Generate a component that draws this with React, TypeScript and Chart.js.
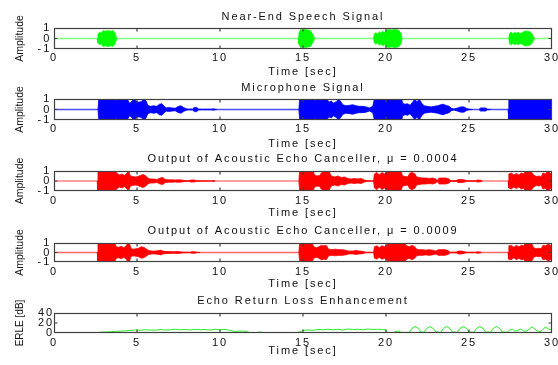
import React, { useEffect, useRef } from 'react';
import { Chart, registerables } from 'chart.js';

Chart.register(...registerables);

// ---------------- data ----------------
const timeTicks = [0, 5, 10, 15, 20, 25, 30];
const amplitudeTicks = [-1, 0, 1];
const erleTicks = [0, 20, 40];

// [time (s), envelope amplitude]
const nearEndSpeech: [number, number][] = [
  [0, 0], [2.6, 0], [2.65, 0.4], [2.75, 0.6], [2.85, 0.5], [2.95, 0.75], [3.1, 0.7], [3.25, 0.75], [3.4, 0.7], [3.55, 0.75], [3.65, 0.6], [3.72, 0.3], [3.78, 0],
  [14.7, 0], [14.75, 0.5], [14.85, 0.85], [15.0, 0.8], [15.15, 0.85], [15.3, 0.8], [15.45, 0.75], [15.55, 0.5], [15.65, 0.2], [15.7, 0],
  [19.25, 0], [19.3, 0.45], [19.4, 0.55], [19.5, 0.4], [19.6, 0.65], [19.7, 0.5], [19.8, 0.7], [19.9, 0.55], [20.0, 0.75], [20.15, 0.85], [20.35, 0.8], [20.55, 0.85], [20.75, 0.8], [20.9, 0.5], [20.97, 0],
  [27.4, 0], [27.45, 0.5], [27.55, 0.6], [27.65, 0.45], [27.75, 0.6], [27.85, 0.5], [27.95, 0.6], [28.05, 0.45], [28.2, 0.55], [28.35, 0.7], [28.5, 0.7], [28.65, 0.65], [28.8, 0.45], [28.9, 0.1], [28.95, 0], [30, 0],
];

const microphoneSignal: [number, number][] = [
  [0, 0], [2.65, 0], [2.7, 1], [3.6, 1], [3.75, 0.85], [3.85, 1], [4.45, 0.9], [4.55, 0.6], [4.65, 0.7], [4.8, 1], [4.95, 0.8], [5.1, 0.7], [5.25, 0.75], [5.4, 1], [5.55, 0.8], [5.65, 0.4], [5.8, 0.3], [6.0, 0.35], [6.2, 0.3], [6.35, 0.5], [6.5, 0.55], [6.65, 0.3], [6.75, 0.15], [6.9, 0.2], [7.1, 0.15], [7.3, 0.12], [7.5, 0.3], [7.65, 0.35], [7.8, 0.2], [7.95, 0.08], [8.1, 0.03], [8.35, 0.05], [8.45, 0.2], [8.6, 0.2], [8.7, 0.05], [8.9, 0.02], [9.5, 0.03], [9.6, 0.06], [9.7, 0.03], [9.8, 0],
  [14.75, 0], [14.8, 1], [15.6, 1], [15.75, 0.85], [15.85, 1], [16.45, 1], [16.55, 0.7], [16.7, 0.8], [16.85, 0.6], [17.0, 0.75], [17.15, 1], [17.3, 0.7], [17.4, 0.45], [17.6, 0.35], [17.8, 0.4], [18.0, 0.45], [18.2, 0.35], [18.4, 0.3], [18.6, 0.3], [18.8, 0.25], [19.0, 0.15], [19.2, 0.3], [19.3, 1], [20.95, 1], [21.0, 0.6], [21.15, 0.5], [21.3, 0.55], [21.45, 0.4], [21.6, 0.7], [21.75, 1], [21.85, 0.7], [22.0, 1], [22.15, 0.6], [22.3, 0.35], [22.5, 0.3], [22.7, 0.25], [22.9, 0.3], [23.1, 0.35], [23.3, 0.45], [23.45, 0.5], [23.6, 0.4], [23.8, 0.3], [23.95, 0.1], [24.1, 0.05], [24.3, 0.15], [24.5, 0.25], [24.7, 0.25], [24.85, 0.1], [25.0, 0.03], [25.2, 0], [25.6, 0], [25.7, 0.15], [25.85, 0.15], [26.0, 0.15], [26.1, 0.03], [26.3, 0],
  [27.35, 0], [27.4, 1], [30, 1],
];

const aecOutputMu0004: [number, number][] = [
  [0, 0], [2.6, 0], [2.65, 1], [3.7, 1], [3.8, 0.75], [3.95, 0.6], [4.1, 0.7], [4.25, 0.55], [4.4, 0.8], [4.5, 1], [4.6, 0.5], [4.75, 0.45], [4.9, 0.4], [5.05, 0.45], [5.2, 0.55], [5.35, 0.65], [5.5, 0.55], [5.65, 0.3], [5.8, 0.2], [6.0, 0.2], [6.2, 0.15], [6.4, 0.3], [6.55, 0.35], [6.7, 0.15], [6.9, 0.12], [7.1, 0.12], [7.3, 0.1], [7.5, 0.12], [7.7, 0.1], [7.9, 0.04], [8.1, 0.02], [8.25, 0.1], [8.45, 0.1], [8.6, 0.02], [9.5, 0], [9.6, 0.05], [9.7, 0],
  [14.75, 0], [14.8, 1], [15.6, 1], [15.7, 0.6], [15.85, 0.5], [16.0, 0.55], [16.1, 0.8], [16.25, 1], [16.4, 0.9], [16.55, 1], [16.7, 0.5], [16.9, 0.4], [17.1, 0.5], [17.3, 0.35], [17.5, 0.4], [17.7, 0.25], [17.9, 0.2], [18.1, 0.25], [18.3, 0.2], [18.5, 0.25], [18.7, 0.1], [18.9, 0.02], [19.25, 0], [19.3, 0.7], [19.45, 0.85], [19.6, 0.6], [19.75, 0.85], [19.9, 0.7], [20.05, 0.9], [20.15, 1], [20.9, 1], [21.0, 0.5], [21.15, 0.45], [21.3, 0.4], [21.45, 0.8], [21.6, 0.85], [21.75, 0.7], [21.85, 0.4], [22.0, 0.35], [22.2, 0.3], [22.4, 0.3], [22.6, 0.25], [22.8, 0.3], [23.0, 0.2], [23.1, 0.05], [23.2, 0.3], [23.4, 0.3], [23.6, 0.3], [23.8, 0.2], [23.9, 0.02], [24.25, 0.05], [24.35, 0.15], [24.55, 0.15], [24.75, 0.1], [24.85, 0.02], [25.4, 0.02], [25.5, 0.1], [25.7, 0.08], [25.8, 0],
  [27.35, 0], [27.4, 0.7], [27.55, 0.8], [27.7, 0.6], [27.85, 0.75], [28.0, 0.6], [28.15, 0.8], [28.3, 0.7], [28.4, 1], [28.7, 1], [28.9, 0.6], [29.05, 0.45], [29.2, 0.5], [29.35, 0.4], [29.45, 0.8], [29.6, 0.7], [29.75, 1], [29.9, 0.8], [30, 0.5],
];

const aecOutputMu0009: [number, number][] = [
  [0, 0], [2.6, 0], [2.65, 1], [3.65, 1], [3.75, 0.6], [3.9, 0.55], [4.05, 0.65], [4.2, 0.5], [4.35, 0.7], [4.45, 1], [4.55, 0.9], [4.65, 0.4], [4.8, 0.35], [4.95, 0.4], [5.1, 0.45], [5.25, 0.6], [5.4, 0.55], [5.55, 0.4], [5.7, 0.2], [5.9, 0.15], [6.1, 0.15], [6.3, 0.2], [6.45, 0.25], [6.6, 0.12], [6.8, 0.1], [7.0, 0.1], [7.2, 0.08], [7.4, 0.1], [7.6, 0.08], [7.8, 0.03], [8.2, 0.02], [8.3, 0.07], [8.5, 0.07], [8.6, 0.01], [8.8, 0],
  [14.75, 0], [14.8, 1], [15.55, 1], [15.65, 0.6], [15.8, 0.5], [15.95, 0.6], [16.1, 0.75], [16.25, 0.7], [16.4, 0.75], [16.55, 0.35], [16.75, 0.3], [16.95, 0.35], [17.15, 0.3], [17.35, 0.3], [17.55, 0.25], [17.75, 0.15], [18.0, 0.15], [18.2, 0.2], [18.4, 0.15], [18.6, 0.12], [18.75, 0.03], [19.25, 0], [19.3, 0.6], [19.45, 0.7], [19.6, 0.5], [19.75, 0.7], [19.9, 0.6], [20.05, 0.8], [20.15, 1], [21.1, 1], [21.25, 0.7], [21.4, 0.6], [21.55, 0.75], [21.7, 0.65], [21.85, 0.35], [22.0, 0.3], [22.2, 0.3], [22.4, 0.25], [22.6, 0.3], [22.8, 0.25], [23.0, 0.15], [23.15, 0.3], [23.35, 0.3], [23.55, 0.3], [23.75, 0.2], [23.85, 0.02], [24.25, 0.05], [24.35, 0.15], [24.55, 0.15], [24.75, 0.08], [24.85, 0.02], [25.4, 0.02], [25.5, 0.07], [25.65, 0.06], [25.75, 0],
  [27.35, 0], [27.4, 0.7], [27.55, 0.75], [27.7, 0.55], [27.85, 0.75], [28.0, 0.6], [28.15, 0.75], [28.3, 0.7], [28.4, 1], [28.75, 1], [28.9, 0.5], [29.05, 0.4], [29.2, 0.45], [29.35, 0.4], [29.45, 0.75], [29.6, 0.7], [29.75, 0.85], [29.9, 0.8], [30, 0.6],
];

// [time (s), ERLE (dB)]
const erleDb: [number, number][] = [
  [0, 0], [0.5, 0], [1.0, 0.3], [1.5, 0], [2.0, 0.5], [2.5, 0.5], [2.8, 1.5], [3.1, 2], [3.4, 2.5], [3.7, 3.5], [4.0, 3.5], [4.3, 4.5], [4.6, 5], [4.9, 6], [5.2, 5.5], [5.5, 6.5], [5.8, 6], [6.1, 5.5], [6.4, 7], [6.7, 6], [7.0, 6.5], [7.3, 7.5], [7.6, 6.5], [7.9, 7], [8.2, 6], [8.5, 7.5], [8.8, 6.5], [9.1, 7], [9.4, 6], [9.7, 7.5], [10.0, 6.5], [10.3, 7], [10.6, 5.5], [10.9, 3], [11.2, 4], [11.5, 3.5], [11.8, 1], [12.1, 0.5], [12.4, 2], [12.7, 0.5], [13.0, 0.3], [13.5, 0.3], [14.0, 0.3], [14.5, 0.5], [14.8, 2],
  [15.0, 5.5], [15.3, 6], [15.6, 5.5], [15.9, 7], [16.2, 6.5], [16.5, 7.5], [16.8, 6.5], [17.1, 7.5], [17.4, 6], [17.7, 8], [18.0, 7], [18.3, 7.5], [18.6, 6.5], [18.9, 8], [19.2, 7], [19.5, 7.5], [19.8, 7], [20.0, 6], [20.1, 0.5], [20.4, 0.5], [20.6, 3], [20.75, 4], [20.9, 1.5],
  [21.2, 1], [21.4, 1.5], [21.55, 9], [21.75, 13], [21.95, 9], [22.1, 2], [22.3, 1.5], [22.45, 9], [22.65, 13], [22.85, 9], [23.0, 2], [23.3, 1.5], [23.45, 9], [23.65, 13], [23.85, 9], [24.0, 2], [24.3, 1.5], [24.45, 9], [24.65, 13], [24.85, 9], [25.0, 2], [25.3, 1.5], [25.45, 9], [25.65, 13], [25.85, 9], [26.0, 2], [26.3, 1.5], [26.45, 9], [26.65, 13], [26.85, 9], [27.0, 2],
  [27.3, 1.5], [27.45, 6], [27.6, 8], [27.75, 4], [27.95, 5], [28.1, 8], [28.3, 4], [28.5, 4], [28.65, 9], [28.8, 12], [28.95, 8], [29.2, 2], [29.4, 5], [29.6, 12], [29.8, 8], [29.95, 6], [30, 16],
];

const panelTitles = [
  'Near-End Speech Signal',
  'Microphone Signal',
  'Output of Acoustic Echo Canceller, \u03bc = 0.0004',
  'Output of Acoustic Echo Canceller, \u03bc = 0.0009',
  'Echo Return Loss Enhancement',
];

// ---------------- styling / layout ----------------
const FAMILY = "'Liberation Sans', Arial, Helvetica, sans-serif";
const TEXT = '#111111';
const FONT_SIZE = 11;
const LH = FONT_SIZE * 1.2;
const SPACING = '1.9px';
const W = 558;

type Spec = {
  title: string;
  yTitle: string;
  yTitleFont: string;
  yTitleSize: number;
  env?: [number, number][];
  line?: [number, number][];
  yMin: number;
  yMax: number;
  yTicks: number[];
  color: string;
  zeroColor: string;
  boxTop: number;
  boxBottom: number;
  titleY: number;
  tickY: number;
  xlabelY: number;
  yTickPad: number;
};

const specs: Spec[] = [
  { title: panelTitles[0], yTitle: 'Amplitude', yTitleFont: FAMILY, yTitleSize: 10.5, env: nearEndSpeech, yMin: -1, yMax: 1, yTicks: amplitudeTicks, color: '#00ff00', zeroColor: 'rgba(0,255,0,0.5)', boxTop: 28, boxBottom: 49, titleY: 16.7, tickY: 57.5, xlabelY: 72, yTickPad: 2.8 },
  { title: panelTitles[1], yTitle: 'Amplitude', yTitleFont: FAMILY, yTitleSize: 10.5, env: microphoneSignal, yMin: -1, yMax: 1, yTicks: amplitudeTicks, color: '#0000ff', zeroColor: 'rgba(0,0,255,0.7)', boxTop: 99, boxBottom: 120, titleY: 88, tickY: 129, xlabelY: 144.5, yTickPad: 2.8 },
  { title: panelTitles[2], yTitle: 'Amplitude', yTitleFont: FAMILY, yTitleSize: 10.5, env: aecOutputMu0004, yMin: -1, yMax: 1, yTicks: amplitudeTicks, color: '#ff0000', zeroColor: 'rgba(255,0,0,0.5)', boxTop: 171, boxBottom: 191, titleY: 159, tickY: 200.5, xlabelY: 213.5, yTickPad: 2.8 },
  { title: panelTitles[3], yTitle: 'Amplitude', yTitleFont: FAMILY, yTitleSize: 10.5, env: aecOutputMu0009, yMin: -1, yMax: 1, yTicks: amplitudeTicks, color: '#ff0000', zeroColor: 'rgba(255,0,0,0.6)', boxTop: 243, boxBottom: 262, titleY: 231, tickY: 272, xlabelY: 284.7, yTickPad: 2.8 },
  { title: panelTitles[4], yTitle: 'ERLE [dB]', yTitleFont: "'Liberation Sans Narrow', 'Arial Narrow', " + FAMILY, yTitleSize: 10, line: erleDb, yMin: 0, yMax: 40, yTicks: erleTicks, color: '#22ee22', zeroColor: '', boxTop: 313, boxBottom: 333, titleY: 301, tickY: 342.5, xlabelY: 351.7, yTickPad: 0 },
];

const boxPlugin = {
  id: 'matlabBox',
  beforeDraw(chart: any) {
    chart.ctx.letterSpacing = '0px';
  },
  afterDatasetsDraw(chart: any) {
    const ctx = chart.ctx;
    const { left, top, right, bottom } = chart.chartArea;
    const xs = chart.scales.x;
    const ys = chart.scales.y;
    ctx.save();
    ctx.strokeStyle = '#404040';
    ctx.lineWidth = 1.2;
    ctx.strokeRect(left + 0.5, top + 0.5, right - left - 1, bottom - top - 1);
    ctx.beginPath();
    xs.ticks.forEach((t: any) => {
      if (t.value <= xs.min || t.value >= xs.max) return;
      const px = xs.getPixelForValue(t.value);
      ctx.moveTo(px, top);
      ctx.lineTo(px, top + 3.5);
      ctx.moveTo(px, bottom);
      ctx.lineTo(px, bottom - 3.5);
    });
    ys.ticks.forEach((t: any) => {
      if (t.value <= ys.min || t.value >= ys.max) return;
      const py = ys.getPixelForValue(t.value);
      ctx.moveTo(left, py);
      ctx.lineTo(left + 3.5, py);
      ctx.moveTo(right, py);
      ctx.lineTo(right - 3.5, py);
    });
    ctx.stroke();
    ctx.restore();
    ctx.letterSpacing = SPACING;
  },
};

function buildConfig(p: Spec, canvasH: number, y0: number) {
  const topH = p.boxTop - y0;
  const xH = canvasH - (p.boxBottom - y0);
  const titlePadTop = p.titleY - y0 - LH / 2;
  const tickPad = p.tickY - p.boxBottom - LH / 2;
  const font = { family: FAMILY, size: FONT_SIZE };
  const transparent = 'rgba(0,0,0,0)';
  const seg = {
    borderColor: (c: any) => (c.p0.parsed.y === 0 && c.p1.parsed.y === 0 ? transparent : undefined),
  };

  let datasets: any[] = [];
  if (p.env) {
    datasets = [
      { label: 'upper', xAxisID: 'x', yAxisID: 'y', data: p.env.map(([t, a]) => ({ x: t, y: a })), borderColor: p.color, backgroundColor: p.color, borderWidth: 0.8, fill: '+1', pointRadius: 0, tension: 0, segment: seg },
      { label: 'lower', xAxisID: 'x', yAxisID: 'y', data: p.env.map(([t, a]) => ({ x: t, y: -a })), borderColor: p.color, backgroundColor: p.color, borderWidth: 0.8, fill: false, pointRadius: 0, tension: 0, segment: seg },
      { label: 'zero', xAxisID: 'x', yAxisID: 'y', data: [{ x: 0, y: 0 }, { x: 30, y: 0 }], borderColor: p.zeroColor, borderWidth: 1.6, fill: false, pointRadius: 0 },
    ];
  } else if (p.line) {
    datasets = [
      { label: 'ERLE', xAxisID: 'x', yAxisID: 'y', data: p.line.map(([t, v]) => ({ x: t, y: v })), borderColor: p.color, borderWidth: 1, fill: false, pointRadius: 0, tension: 0 },
    ];
  }

  return {
    type: 'line' as const,
    data: { datasets },
    plugins: [boxPlugin],
    options: {
      animation: false as const,
      responsive: false,
      devicePixelRatio: 1,
      events: [] as any[],
      layout: { padding: { left: 0, right: 6, top: 0, bottom: 0 } },
      plugins: { legend: { display: false }, tooltip: { enabled: false }, title: { display: false } },
      scales: {
        x: {
          type: 'linear' as const,
          position: 'bottom' as const,
          min: 0,
          max: 30,
          afterBuildTicks: (s: any) => { s.ticks = timeTicks.map((v) => ({ value: v })); },
          afterFit: (s: any) => { s.height = xH; s.paddingLeft = 0; s.paddingRight = 0; },
          grid: { display: false, drawTicks: false, z: 1 },
          border: { display: false, z: 1 },
          ticks: { color: TEXT, font, padding: tickPad, maxRotation: 0, autoSkip: false, z: 1 },
          title: { display: true, text: 'Time [sec]', color: TEXT, font, padding: { top: 0, bottom: 0 } },
        },
        xTop: {
          type: 'linear' as const,
          position: 'top' as const,
          min: 0,
          max: 30,
          afterFit: (s: any) => { s.height = topH; s.paddingLeft = 0; s.paddingRight = 0; },
          grid: { display: false, drawTicks: false, z: 1 },
          border: { display: false, z: 1 },
          ticks: { display: false, z: 1 },
          title: { display: true, text: p.title, color: TEXT, font, padding: { top: titlePadTop, bottom: 0 } },
        },
        y: {
          type: 'linear' as const,
          position: 'left' as const,
          min: p.yMin,
          max: p.yMax,
          afterBuildTicks: (s: any) => { s.ticks = p.yTicks.map((v) => ({ value: v })); },
          afterFit: (s: any) => { s.width = 54; s.paddingTop = 0; s.paddingBottom = 0; },
          grid: { display: false, drawTicks: false, z: -1 },
          border: { display: false },
          ticks: { color: TEXT, font, padding: p.yTickPad, autoSkip: false, z: 1 },
          title: { display: true, text: p.yTitle, color: TEXT, font: { family: p.yTitleFont, size: p.yTitleSize }, padding: { top: 20 - (p.yTitleSize * 1.2) / 2, bottom: 0 } },
        },
      },
    },
  };
}

function Panel({ spec }: { spec: Spec }) {
  const ref = useRef<HTMLCanvasElement | null>(null);
  const y0 = spec.boxTop - 24;
  const canvasH = Math.round(spec.xlabelY + LH / 2 - y0);
  useEffect(() => {
    if (!ref.current) return;
    const chart = new Chart(ref.current, buildConfig(spec, canvasH, y0) as any);
    return () => chart.destroy();
  }, []);
  return (
    <canvas
      ref={ref}
      width={W}
      height={canvasH}
      style={{ position: 'absolute', left: 0, top: y0, width: W, height: canvasH }}
    />
  );
}

export default function App() {
  return (
    <div style={{ position: 'fixed', left: 0, top: 0, width: W, height: 365, background: '#ffffff', overflow: 'hidden' }}>
      {specs.map((s, i) => (
        <Panel key={i} spec={s} />
      ))}
    </div>
  );
}
